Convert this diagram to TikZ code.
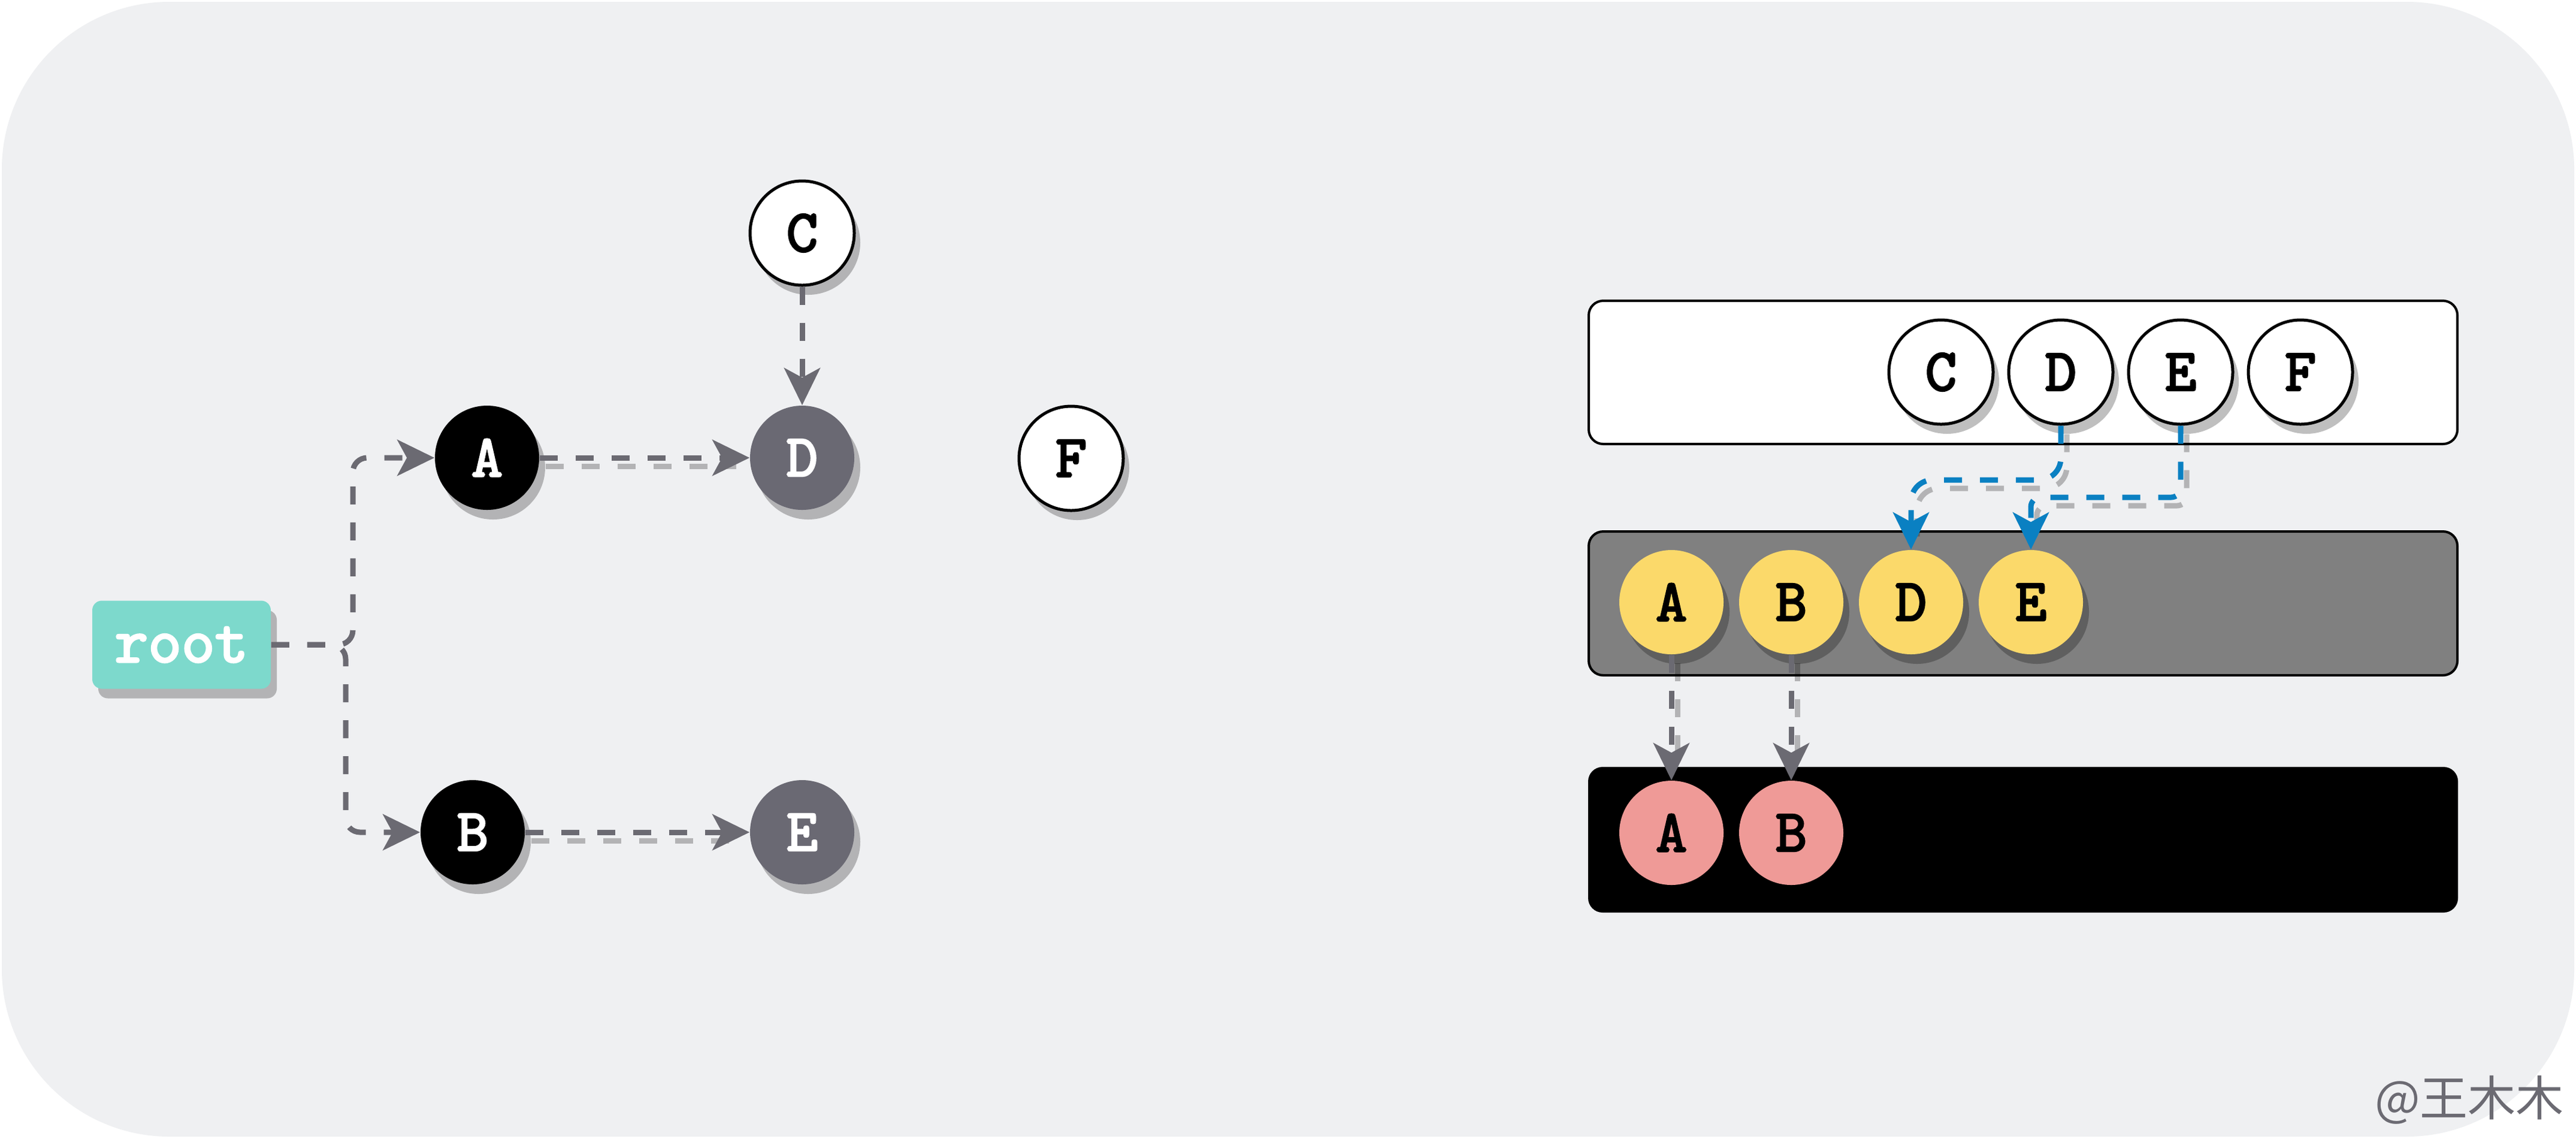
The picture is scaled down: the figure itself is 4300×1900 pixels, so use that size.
\documentclass[tikz,border=0pt]{standalone}
\usepackage{fontspec}
\newfontfamily\cjkfont{Noto Sans CJK SC}
\newfontfamily\monobold{lmmono10-regular.otf}[FakeBold=3]
\usetikzlibrary{arrows.meta,shadows}
\definecolor{bgc}{HTML}{EFF0F2}
\definecolor{conngray}{HTML}{6B6A72}
\definecolor{nodegray}{HTML}{6A6973}
\definecolor{rootc}{HTML}{7DD9CC}
\definecolor{yel}{HTML}{FBD96A}
\definecolor{pnk}{HTML}{EF9A97}
\definecolor{panelgray}{HTML}{808080}
\definecolor{blu}{HTML}{0A80C2}
\newcommand\lblfont{\monobold\fontsize{25}{25}\selectfont}
\newcommand\rootfont{\monobold\fontsize{26.5}{26.5}\selectfont}
\begin{document}
\begin{tikzpicture}[x=0.25pt,y=-0.25pt,
  shadowed/.style={drop shadow={shadow xshift=2.5pt,shadow yshift=-4pt,opacity=0.25,fill=black}},
  cnode/.style={circle,minimum size=43.5pt,inner sep=0pt,font=\lblfont,shadowed},
  wnode/.style={cnode,fill=white,draw=black,line width=1.25pt},
  knode/.style={cnode,fill=black,text=white},
  gnode/.style={cnode,fill=nodegray,text=white},
  ynode/.style={cnode,fill=yel},
  pnode/.style={cnode,fill=pnk},
  rootbox/.style={rectangle,rounded corners=4pt,fill=rootc,text=white,minimum width=74.5pt,minimum height=36.75pt,inner sep=0pt,font=\rootfont,shadowed},
  panel/.style={rounded corners=6pt,line width=1pt,draw=black},
  conn/.style={draw=conngray,line width=2.25pt,dash pattern=on 7.5pt off 7.5pt,-{Stealth[length=15.5pt,width=15pt,inset=4pt]}},
  bconn/.style={conn,draw=blu},
  cshadow/.style={draw=black,opacity=0.25,line width=2.25pt,dash pattern=on 7.5pt off 7.5pt,shorten >=8pt}
]
\useasboundingbox (0,0) rectangle (4300,1900);
\fill[white] (0,0) rectangle (4300,1900);
\fill[bgc,rounded corners=70pt] (3,3) rectangle (4297,1897);

% panels
\draw[panel,fill=white] (2652,502) rectangle (4102,741);
\draw[panel,fill=panelgray] (2652,887) rectangle (4102,1127);
\fill[black,rounded corners=6pt] (2651,1280) rectangle (4103,1523);

% left graph nodes
\node[rootbox] (root) at (303,1076) {root};
\node[wnode] (lC) at (1339,389) {C};
\node[knode] (lA) at (813,764) {A};
\node[gnode] (lD) at (1339,764) {D};
\node[wnode] (lF) at (1788,765) {F};
\node[knode] (lB) at (789,1389) {B};
\node[gnode] (lE) at (1339,1389) {E};

% right nodes
\node[wnode] (tC) at (3240,621) {C};
\node[wnode] (tD) at (3440,621) {D};
\node[wnode] (tE) at (3640,621) {E};
\node[wnode] (tF) at (3840,621) {F};
\node[ynode] (yA) at (2790,1005) {A};
\node[ynode] (yB) at (2990,1005) {B};
\node[ynode] (yD) at (3190,1005) {D};
\node[ynode] (yE) at (3390,1005) {E};
\node[pnode] (pA) at (2790,1390) {A};
\node[pnode] (pB) at (2990,1390) {B};

% connector shadows
\begin{scope}[transform canvas={xshift=2.5pt,yshift=-3.5pt}]
\draw[cshadow] (lA.east) -- (lD.west);
\draw[cshadow] (lB.east) -- (lE.west);
\draw[cshadow,rounded corners=9pt] (tD.south) |- (3190,801) -- (yD.north);
\draw[cshadow,rounded corners=4pt] (tE.south) |- (3390,830) -- (yE.north);
\draw[cshadow] (yA.south) -- (pA.north);
\draw[cshadow] (yB.south) -- (pB.north);
\end{scope}

% connectors
\draw[conn,rounded corners=6pt] (root.east) -| (589,764) -- (lA.west);
\draw[conn,rounded corners=6pt] (root.east) -| (577,1389) -- (lB.west);
\draw[conn] (lA.east) -- (lD.west);
\draw[conn] (lB.east) -- (lE.west);
\draw[conn] (lC.south) -- (lD.north);
\draw[bconn,rounded corners=9pt] (tD.south) |- (3190,801) -- (yD.north);
\draw[bconn,rounded corners=4pt] (tE.south) |- (3390,830) -- (yE.north);
\draw[conn] (yA.south) -- (pA.north);
\draw[conn] (yB.south) -- (pB.north);

% watermark
\node[text=conngray,font=\cjkfont\fontsize{20}{20}\selectfont,inner sep=0pt] (wm) at (4122,1836) {@王木木};
\end{tikzpicture}
\end{document}
